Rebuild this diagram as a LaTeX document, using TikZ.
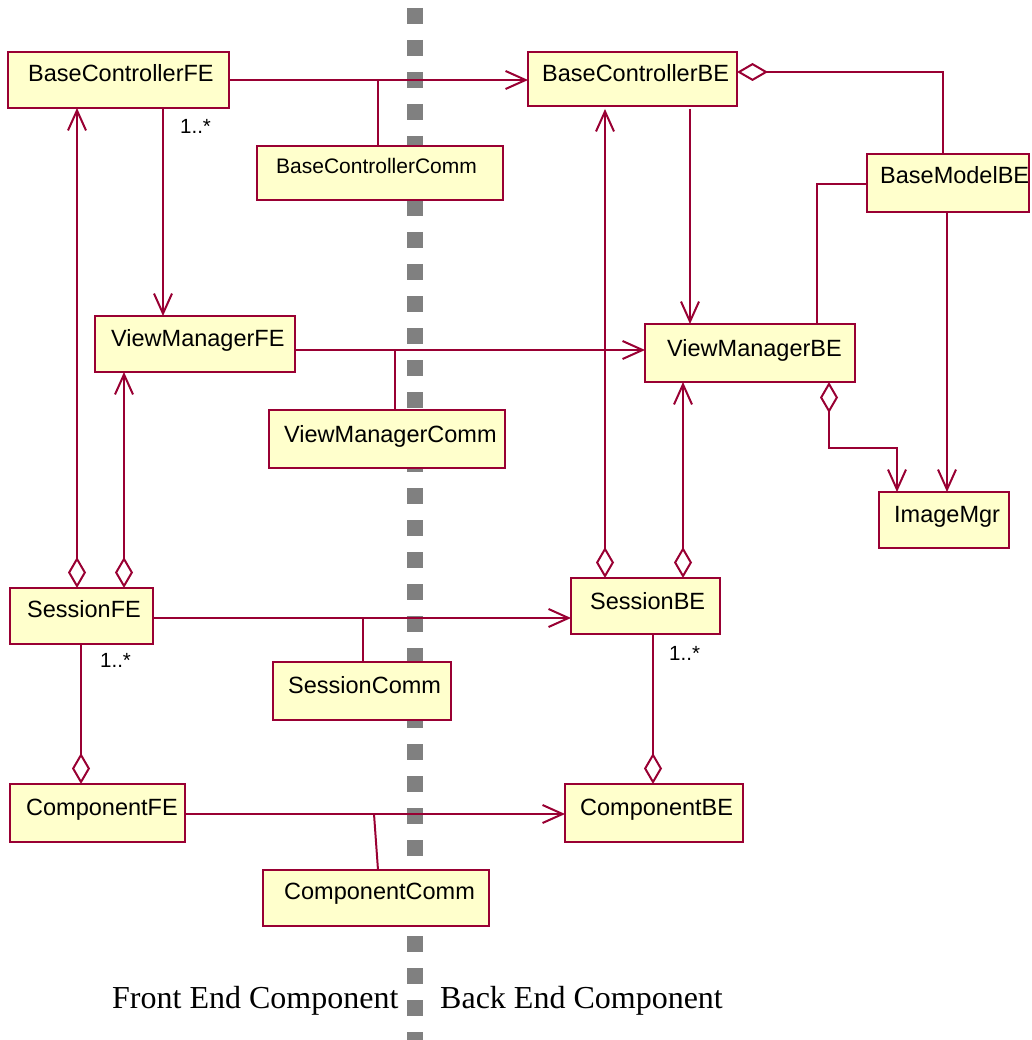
\documentclass[tikz,border=0pt]{standalone}
\usepackage{fontspec}
\setmainfont{Liberation Serif}
\setsansfont{Liberation Sans}
\usetikzlibrary{arrows.meta,calc,fit}
\definecolor{umlred}{HTML}{990033}
\definecolor{umlfill}{HTML}{FFFFCC}
\definecolor{sepgray}{HTML}{808080}
\begin{document}
\begin{tikzpicture}[x=1pt,y=-1pt,
  clsbox/.style={draw=umlred, fill=umlfill, line width=2pt, inner sep=0pt, outer sep=0pt},
  lbl/.style={font=\sffamily\fontsize{23.5}{28}\selectfont, inner sep=0pt, anchor=base west},
  lblsmall/.style={font=\sffamily\fontsize{21}{25}\selectfont, inner sep=0pt, anchor=base west},
  mult/.style={font=\sffamily\fontsize{20.5}{24}\selectfont, inner sep=0pt, anchor=base west},
  conn/.style={draw=umlred, line width=2pt},
  nav/.style={conn, -{Straight Barb[length=20pt,width=18pt]}},
  agg/.style={conn, {Diamond[open,length=31pt,width=18pt]}-},
  aggnav/.style={conn, {Diamond[open,length=31pt,width=18pt]}-{Straight Barb[length=20pt,width=18pt]}},
  caption/.style={font=\fontsize{32}{38}\selectfont, inner sep=0pt, anchor=base west},
]
\useasboundingbox (0,0) rectangle (1031,1040);
% separator
\draw[sepgray, line width=16pt, dash pattern=on 16pt off 16pt] (415,8) -- (415,1040);

% classes
\node[clsbox, fit={(8,52) (229,108)}] (bcfe) {};
\node[lbl] (bcfe-t) at (28,82) {BaseControllerFE};
\node[clsbox, fit={(257,146) (503,200)}] (bcc) {};
\node[lblsmall] (bcc-t) at (276,174) {BaseControllerComm};
\node[clsbox, fit={(528,52) (737,106)}] (bcbe) {};
\node[lbl] (bcbe-t) at (542,82) {BaseControllerBE};
\node[clsbox, fit={(867,154) (1029,212)}] (bmbe) {};
\node[lbl] (bmbe-t) at (880,184) {BaseModelBE};
\node[clsbox, fit={(95,316) (295,372)}] (vmfe) {};
\node[lbl] (vmfe-t) at (111,346) {ViewManagerFE};
\node[clsbox, fit={(269,410) (505,468)}] (vmc) {};
\node[lbl] (vmc-t) at (284,442) {ViewManagerComm};
\node[clsbox, fit={(645,324) (855,382)}] (vmbe) {};
\node[lbl] (vmbe-t) at (667,356) {ViewManagerBE};
\node[clsbox, fit={(879,492) (1009,548)}] (img) {};
\node[lbl] (img-t) at (894,522) {ImageMgr};
\node[clsbox, fit={(10,588) (153,644)}] (sfe) {};
\node[lbl] (sfe-t) at (27,617) {SessionFE};
\node[clsbox, fit={(273,662) (451,720)}] (sc) {};
\node[lbl] (sc-t) at (288,693) {SessionComm};
\node[clsbox, fit={(571,578) (720,634)}] (sbe) {};
\node[lbl] (sbe-t) at (590,609) {SessionBE};
\node[clsbox, fit={(10,784) (185,842)}] (cfe) {};
\node[lbl] (cfe-t) at (26,815) {ComponentFE};
\node[clsbox, fit={(263,870) (489,926)}] (cc) {};
\node[lbl] (cc-t) at (284,899) {ComponentComm};
\node[clsbox, fit={(565,784) (743,842)}] (cbe) {};
\node[lbl] (cbe-t) at (580,815) {ComponentBE};

% connectors front/back with comm attachments
\draw[nav] (bcfe.east) -- (bcfe.east -| bcbe.west);
\coordinate (j1) at ($(bcc.north)+(-2,0)$);
\draw[conn] (j1) -- (j1 |- bcfe.east);

\coordinate (l2) at ($(vmfe.east)+(0,6)$);
\draw[nav] (l2) -- (l2 -| vmbe.west);
\coordinate (j2) at ($(vmc.north)+(8,0)$);
\draw[conn] (j2) -- (j2 |- l2);

\coordinate (l3) at ($(sfe.east)+(0,2)$);
\draw[nav] (l3) -- (l3 -| sbe.west);
\coordinate (j3) at ($(sc.north)+(1,0)$);
\draw[conn] (j3) -- (j3 |- l3);

\coordinate (l4) at ($(cfe.east)+(0,1)$);
\draw[nav] (l4) -- (l4 -| cbe.west);
\coordinate (j4) at ($(cc.north)+(2,0)$);
\draw[conn] (j4) -- ($(l4)+(189,0)$);

% front end
\draw[nav] ($(bcfe.south west)+(155,0)$) -- ($(vmfe.north west)+(68,0)$);
\draw[aggnav] ($(sfe.north west)+(67,0)$) -- ($(bcfe.south west)+(69,0)$);
\draw[aggnav] ($(sfe.north west)+(114,0)$) -- ($(vmfe.south west)+(29,0)$);
\draw[agg] ($(cfe.north west)+(71,0)$) -- ($(sfe.south west)+(71,0)$);

% back end
\draw[nav] ($(bcbe.south west)+(162,3)$) -- ($(vmbe.north west)+(45,0)$);
\draw[aggnav] ($(sbe.north west)+(34,0)$) -- ($(bcbe.south west)+(77,3)$);
\draw[aggnav] ($(sbe.north west)+(112,0)$) -- ($(vmbe.south west)+(38,0)$);
\draw[agg] ($(cbe.north west)+(88,0)$) -- ($(sbe.south west)+(82,0)$);
\draw[agg] ($(bcbe.north east)+(0,20)$) -| ($(bmbe.north west)+(76,0)$);
\draw[conn] ($(bmbe.north west)+(0,30)$) -| ($(vmbe.north west)+(172,0)$);
\draw[nav] ($(bmbe.south west)+(80,0)$) -- ($(img.north west)+(68,0)$);
\draw[aggnav] ($(vmbe.south west)+(184,0)$) -- ++(0,66) -| ($(img.north west)+(18,0)$);

% multiplicities
\node[mult] (m1) at (180,134) {1..*};
\node[mult] (m2) at (100,667) {1..*};
\node[mult] (m3) at (669,660) {1..*};

% captions
\node[caption] (fe) at (112,1008) {Front End Component};
\node[caption] (be) at (440,1008) {Back End Component};
\end{tikzpicture}
\end{document}
